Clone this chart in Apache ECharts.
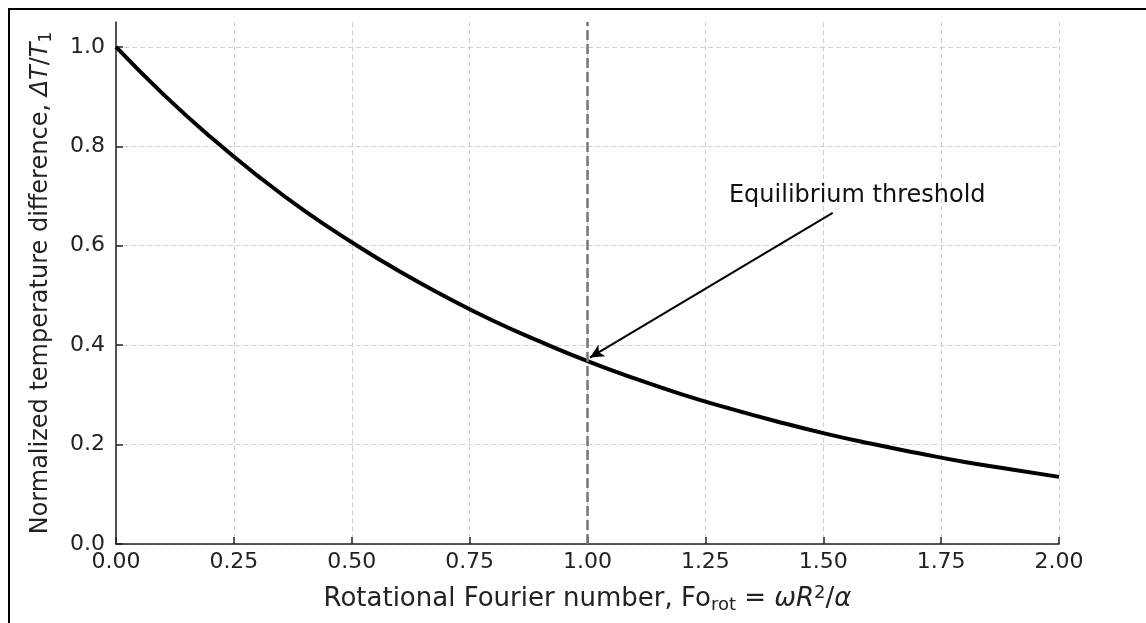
<!DOCTYPE html>
<html>
<head>
<meta charset="utf-8">
<script src="https://cdn.jsdelivr.net/npm/echarts@6/dist/echarts.min.js"></script>
<style>
  html, body { margin: 0; padding: 0; background: #fff; }
  #main { width: 1146px; height: 623px; }
</style>
</head>
<body>
<div id="main"></div>
<script>
// values
var foValues = [0, 0.1, 0.2, 0.3, 0.4, 0.5, 0.6, 0.7, 0.8, 0.9, 1.0,
                1.1, 1.2, 1.3, 1.4, 1.5, 1.6, 1.7, 1.8, 1.9, 2.0];
var dtValues = [1.0, 0.905, 0.819, 0.741, 0.670, 0.607, 0.549, 0.497, 0.449, 0.407, 0.368,
                0.333, 0.301, 0.273, 0.247, 0.223, 0.202, 0.183, 0.165, 0.150, 0.135];
var xTicks = [0, 0.25, 0.5, 0.75, 1.0, 1.25, 1.5, 1.75, 2.0];
var yTicks = [0, 0.2, 0.4, 0.6, 0.8, 1.0];
var thresholdFo = 1.0;
var arrowFrom = [1.52, 0.666];
var arrowTo = [1.005, 0.375];
var noteAt = [1.30, 0.70];
var noteText = "Equilibrium threshold";

var chartDom = document.getElementById("main");
var myChart = echarts.init(chartDom);
var option;

var font = "DejaVu Sans";
var axisColor = "#222";

option = {
  animation: false,
  grid: { left: 116, right: 87, top: 22, bottom: 79 },
  graphic: [
    { type: "line", shape: { x1: 8, y1: 9, x2: 1146, y2: 9 }, style: { stroke: "#000", lineWidth: 2 } },
    { type: "line", shape: { x1: 9, y1: 8, x2: 9, y2: 623 }, style: { stroke: "#000", lineWidth: 2 } },
  ],
  xAxis: {
    type: "value",
    min: 0,
    max: 2,
    interval: 0.25,
    name: "Rotational Fourier number, Fo{sub|rot}{n| = }{it|ωR}{sup|2}{n|/}{it|α}",
    nameLocation: "middle",
    nameGap: 40,
    nameTextStyle: {
      fontFamily: font, fontSize: 26, color: "#222",
      rich: {
        sub: { fontFamily: font, fontSize: 18, color: "#222", verticalAlign: "bottom", padding: [12, 0, 0, 0] },
        sup: { fontFamily: font, fontSize: 18, color: "#222", verticalAlign: "top", padding: [0, 0, 12, 0] },
        it: { fontFamily: font, fontSize: 26, fontStyle: "italic", color: "#222" },
        n: { fontFamily: font, fontSize: 26, color: "#222" },
      },
    },
    axisLine: { onZero: false, lineStyle: { color: axisColor, width: 1.5 } },
    axisTick: { inside: true, length: 7, customValues: xTicks, lineStyle: { color: axisColor, width: 1.5 } },
    axisLabel: {
      customValues: xTicks,
      margin: 7,
      fontFamily: font, fontSize: 22, color: "#222",
      formatter: function (v) { return v.toFixed(2); },
    },
    splitLine: { show: true, lineStyle: { color: "#d0d0d0", type: [5, 3], width: 1 } },
  },
  yAxis: {
    type: "value",
    min: 0,
    max: 1.05,
    name: "Normalized temperature difference, {it|ΔT}{n|/}{it|T}{sub|1}",
    nameLocation: "middle",
    nameGap: 61,
    nameTextStyle: {
      fontFamily: font, fontSize: 24, color: "#222",
      rich: {
        sub: { fontFamily: font, fontSize: 17, color: "#222", verticalAlign: "bottom", padding: [12, 0, 0, 0] },
        it: { fontFamily: font, fontSize: 24, fontStyle: "italic", color: "#222" },
        n: { fontFamily: font, fontSize: 24, color: "#222" },
      },
    },
    axisLine: { show: true, onZero: false, lineStyle: { color: axisColor, width: 1.5 } },
    axisTick: { show: true, inside: true, length: 7, customValues: yTicks, lineStyle: { color: axisColor, width: 1.5 } },
    axisLabel: {
      customValues: yTicks,
      margin: 11,
      fontFamily: font, fontSize: 22, color: "#222",
      formatter: function (v) { return v.toFixed(1); },
    },
    splitLine: { show: true, lineStyle: { color: "#d0d0d0", type: [5, 3], width: 1 } },
  },
  series: [
    {
      type: "line",
      data: foValues.map(function (x, i) { return [x, dtValues[i]]; }),
      smooth: true,
      showSymbol: false,
      lineStyle: { color: "#000", width: 4 },
      z: 3,
      markLine: {
        silent: true,
        symbol: ["none", "none"],
        label: { show: false },
        lineStyle: { color: "#777", width: 2.5, type: [10, 4] },
        data: [{ xAxis: thresholdFo }],
      },
    },
    {
      type: "line",
      data: [],
      markLine: {
        silent: true,
        symbol: ["none", "arrow"],
        symbolSize: [10, 14],
        label: { show: false },
        lineStyle: { color: "#000", width: 2, type: "solid" },
        data: [[{ coord: arrowFrom }, { coord: arrowTo }]],
      },
      markPoint: {
        silent: true,
        symbol: "circle",
        symbolSize: 0,
        label: {
          show: true,
          position: "right",
          distance: 0,
          formatter: noteText,
          fontFamily: font, fontSize: 24, color: "#111",
        },
        data: [{ coord: noteAt }],
      },
    },
  ],
};

option && myChart.setOption(option);
</script>
</body>
</html>
